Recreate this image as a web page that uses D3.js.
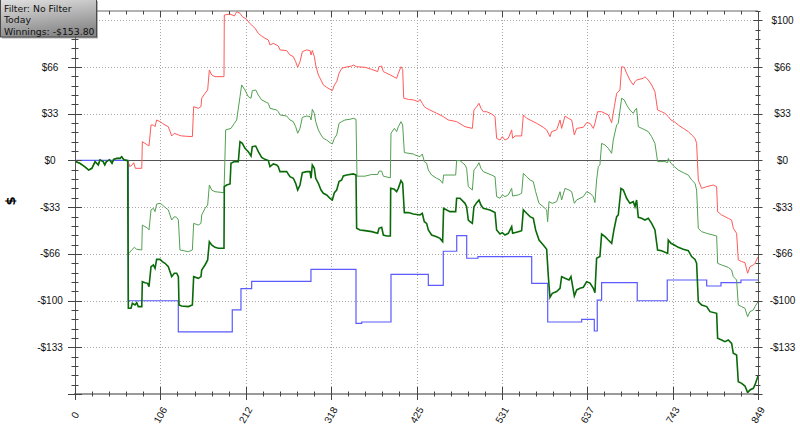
<!DOCTYPE html>
<html><head><meta charset="utf-8">
<script src="https://cdn.jsdelivr.net/npm/d3@7/dist/d3.min.js"></script>
<style>body{margin:0;background:#fff}svg{display:block}</style>
</head><body>
<svg id="c" width="800" height="433"></svg>
<script>
// ---------------- data ----------------
const xTickLabels = ["0","106","212","318","425","531","637","743","849"];
const yTickValues = [-133.333,-100,-66.667,-33.333,0,33.333,66.667,100];
const yTickLabels = ["-$133","-$100","-$66","-$33","$0","$33","$66","$100"];
const legendLines = ["Filter: No Filter","Today","Winnings: -$153.80"];
const axisLabel = "$";

// first 65 hands: all cumulative series coincide
const startHands = [[0,-0.6],[6,-2.0],[12,-4.4],[17,-6.8],[21,-5.6],[25,-0.8],[29,-3.2],[31,0.4],[35,-0.8],[37,-3.2],[39,-0.8],[43,0.4],[46,-2.0],[48,0.8],[52,1.5],[56,1.5],[58,2.7],[61,0.4],[65.5,-0.1]];

const darkGreenLater = [[66.3,-105.5],[69.6,-105.5],[71.3,-101.9],[74.6,-103.1],[76.7,-101.5],[78.7,-104.3],[83,-104.3],[83.7,-86.5],[87,-87.2],[90.3,-87.7],[92,-90.1],[94.5,-75.8],[97.4,-74.6],[99.5,-77],[101.5,-70.6],[105.7,-70.6],[108.6,-72.2],[111.9,-73.4],[116,-75.8],[120.2,-82.9],[123.5,-80.5],[126.4,-80.5],[128.5,-82.9],[129.3,-103.1],[132.6,-103.9],[140.9,-104.3],[145.9,-103.1],[147.5,-82.9],[153.3,-84.1],[156.6,-82.9],[157.5,-78.2],[161.6,-74.6],[164.9,-71],[167,-58],[169.9,-60.3],[174,-62],[178.2,-62.7],[185.2,-62.7],[185.6,-18.7],[188.5,-17.5],[192.7,-16.8],[193.9,-2],[198.1,-0.8],[203,-0.8],[205.1,13.4],[208,12.2],[211.3,8.7],[215.4,6.3],[218.8,3.2],[220.4,9.9],[224.6,10.3],[227.9,6.3],[232,2.2],[236.2,0.8],[240.3,-0.1],[242.4,-4.4],[246.5,-2.5],[250.7,-3.2],[252.7,-4.4],[254.8,-8],[263.1,-8],[267.2,-11.6],[271.4,-12.7],[274.3,-16.3],[276.8,-21.1],[279.7,-17.5],[282.6,-8.7],[288,-8],[292.1,-8],[293.4,-12.7],[295,-3.2],[297.5,-5.6],[299.2,-12.7],[302.5,-16.3],[305.8,-21.1],[308.7,-23.4],[312.8,-24.6],[317,-27],[319.9,-28.2],[322.4,-23],[325.3,-21.1],[328.2,-15.1],[331.5,-13.9],[333.5,-11.1],[337.7,-10.4],[346,-9.6],[349.3,-10.4],[350.1,-48.4],[354.3,-49.6],[360.5,-50.1],[368.8,-50.8],[376.2,-52],[377.9,-48.4],[381.2,-47.7],[383.3,-53.2],[387.4,-53.9],[392,-53.9],[392.4,-19.9],[397,-20.6],[399.8,-22.3],[401.9,-19.9],[405.2,-14.4],[407.3,-16.3],[409.4,-37.2],[414.4,-37.2],[420.6,-38.2],[428.8,-38.9],[431.7,-37.7],[434.2,-43.7],[437.1,-44.9],[439.2,-49.6],[443.3,-53.2],[449.5,-54.4],[453.7,-55.6],[457,-57.9],[458.2,-34.2],[462,-35.3],[466.1,-36.5],[473.2,-36.5],[474.4,-27],[478.5,-27],[484.8,-30.6],[486.8,-33],[488.9,-42.5],[491,-43.7],[493.9,-44.9],[495.9,-33],[499.3,-30.1],[502.2,-28.2],[504.6,-31.8],[507.5,-34.2],[515.8,-35.3],[522.1,-37.2],[524.1,-49.6],[528.3,-52.5],[531.2,-51.5],[534.5,-53.2],[538.6,-52],[542.8,-47.2],[544,-52],[551.1,-50.8],[555.2,-50.1],[557.3,-35.3],[561.4,-37.7],[565.6,-40.1],[569.7,-41.3],[572.6,-49.6],[576.8,-56.8],[582.1,-60.3],[586.3,-63.4],[588.4,-82.9],[590.4,-97.7],[593.3,-94.8],[598.7,-93.6],[602.9,-91.2],[604.9,-82.9],[609.1,-84.1],[614.1,-85.3],[616.5,-82.9],[620.7,-96.7],[623.6,-92.4],[627.7,-91.2],[631.9,-90.5],[636,-86.5],[640.2,-87.5],[644.3,-91.2],[646.3,-94.3],[648.4,-69.8],[652.5,-68.6],[654.6,-52.5],[658.8,-54.4],[662.9,-56.8],[667.1,-59.1],[669.9,-49.6],[673.3,-40.1],[675.3,-38.9],[678.7,-19.9],[681.6,-21.1],[685.7,-27],[689.8,-30.6],[694,-29.4],[696.1,-33],[698.1,-28.2],[700.2,-40.6],[704.3,-41.3],[708.5,-42.5],[712.6,-41.3],[716.8,-44.9],[720.9,-49.6],[724.2,-63.9],[729.2,-64.4],[736.7,-66.3],[737.5,-56.8],[740.8,-59.1],[745,-60.3],[749.9,-62],[756.1,-63.4],[762.4,-64.4],[766.5,-68.6],[770.7,-70.6],[772.7,-73.4],[774.8,-100.8],[778.9,-103.1],[785.2,-104.3],[789.3,-107.9],[797.6,-109.1],[798.8,-126.9],[803.8,-128.1],[807.9,-129.3],[812.1,-128.1],[816.2,-130.5],[818.3,-137.6],[822.4,-138.8],[824.5,-157.9],[828.7,-159.1],[832.8,-161],[836.1,-165.7],[839,-163.8],[843.2,-162.6],[845.2,-160.2],[849,-153.8]];

const redLater = [[66.3,-1],[68,-4.4],[71,-3.2],[73,-1.6],[75,-5.6],[83,-5.6],[83.7,13.4],[87,12.2],[90.3,11],[92,10.3],[94.5,25.3],[97.4,25.3],[99.5,24.1],[101.5,28.9],[105.7,27.7],[108.6,26.5],[111.9,25.3],[116,24.1],[120.2,17.5],[123.5,19.4],[128.5,18.2],[132.6,17.5],[145.9,17],[147.5,38.4],[153.3,37.2],[156.6,38.4],[157.5,44.4],[161.6,47.9],[164.9,50.3],[167,64.6],[169.9,61],[174,59.8],[185.2,59.8],[185.6,103.8],[192.7,104.5],[198.1,103.1],[201,106.2],[205.1,105],[208,102.6],[213.4,100.7],[217,97.9],[219.6,96.7],[223.7,94.3],[227.9,90.7],[232,88.8],[236.2,87.2],[240.3,86],[242.4,82.4],[246.5,83.6],[252.7,81.7],[254.8,78.9],[263.1,78.4],[267.2,75.3],[271.4,74.1],[274.3,70.5],[276.8,66.5],[279.7,70.5],[282.6,77.7],[288,78.9],[292.1,78.4],[293.4,75.3],[295,78.5],[297.5,74.1],[299.2,68.1],[302.5,61],[305.8,57.4],[308.7,53.9],[312.8,52.2],[317,50.8],[319.9,49.8],[322.4,53.9],[325.3,56.2],[328.2,62.2],[331.5,65.7],[335.6,66.5],[343.9,67.4],[346,68.1],[350.1,66.9],[360.5,66.5],[368.8,65],[376.2,63.4],[377.9,66.9],[381.2,67.4],[383.3,63.4],[392,61],[399.8,58.6],[401.9,62.2],[405.2,66.9],[407.3,65],[408.6,44.4],[414.4,43.6],[420.6,43.2],[426.7,42],[428.8,43.6],[431.7,40.8],[434.2,38.4],[437.1,37.2],[441.2,36],[449.5,33.7],[457.8,31.3],[464,28.9],[474.4,27.7],[484.8,24.1],[493.9,22.9],[495.9,36],[499.3,38.4],[502.2,40.8],[504.6,37.2],[507.5,34.8],[511.7,34.8],[517.9,33.2],[522.1,31.3],[524.1,15.8],[528.3,14.6],[531.2,17],[534.5,14.6],[538.6,15.8],[542.8,21.8],[544,15.8],[546.9,17.5],[555.2,17.5],[557.3,32.5],[561.4,30.1],[565.6,28.9],[573.9,26.5],[582.1,23.7],[586.3,21.8],[590.4,17],[592.5,20.6],[598.7,21.8],[602.9,28.9],[604.9,22.9],[609.1,31.7],[613.2,30.1],[617.4,28.9],[620.7,18.2],[623.6,22.9],[631.9,23.7],[636,27],[640.1,26.5],[644.3,22.9],[646.3,26.5],[649.6,34.8],[654.6,34.8],[658.8,33.6],[662.9,32.5],[667.1,27],[670.4,38.4],[673.3,47.9],[677.4,50.3],[679.5,66.9],[682.8,66.5],[685.7,62.2],[689.8,57.4],[694,53.9],[696.1,56.2],[698.1,57.4],[706.4,58.6],[708.5,59.8],[712.6,57.4],[716.8,53.9],[720.9,49.1],[724.2,36],[729.2,34.8],[733.4,33.6],[737.5,31.3],[740.8,28.9],[745,27.7],[749.9,25.3],[756.1,22.9],[762.4,20.6],[766.5,18.2],[770.7,15.8],[772.7,12.2],[774.8,-13.9],[778.9,-19.9],[785.2,-18.7],[793.4,-17.5],[797.6,-18.7],[798.8,-36.5],[803.8,-38.9],[807.9,-40.1],[812.1,-41.3],[816.2,-42.5],[818.3,-48.4],[822.4,-52],[824.5,-71],[828.7,-72.2],[832.8,-72.9],[836.1,-80.5],[839,-75.8],[843.2,-74.6],[845.2,-73.4],[849,-68.8]];

const midGreenLater = [[66.3,-66],[67.1,-66.3],[70.4,-63.9],[73.8,-62],[76.7,-63.4],[83,-63.9],[83.7,-46.1],[87,-47.2],[90.3,-48.4],[92,-49.6],[94.5,-35.3],[97.4,-34.2],[99.5,-36.5],[101.5,-31.1],[105.7,-30.6],[108.6,-31.8],[111.9,-33.4],[116,-35.3],[120.2,-42.5],[123.5,-40.1],[126.4,-40.6],[128.5,-42.5],[130.5,-63.9],[140.9,-65.1],[145.9,-63.9],[147.5,-44.9],[153.3,-46.1],[156.6,-44.9],[157.5,-38.9],[161.6,-34.2],[164.9,-31.8],[167,-17.5],[169.9,-21.1],[174,-22.3],[185.2,-23],[187.3,21.8],[193.9,22.9],[198.1,26.5],[201,28.9],[205.1,45.5],[207.2,53.9],[211.3,50.3],[215.4,45.5],[218.8,44.4],[220.4,49.8],[224.6,50.3],[227.9,46.7],[232,43.2],[236.2,42],[240.3,40.8],[242.4,37.2],[250.7,36],[252.7,34.8],[254.8,32.5],[263.1,31.7],[267.2,28.9],[271.4,27.7],[274.3,24.1],[276.8,19.4],[279.7,22.9],[282.6,30.8],[288,31.7],[292.1,31.3],[293.4,28.9],[295,36.5],[297.5,33.6],[299.2,27.7],[302.5,21.8],[305.8,18.2],[308.7,15.8],[312.8,14.6],[317,12.7],[319.9,11.8],[322.4,15.8],[325.3,18.2],[328.2,26.5],[331.5,27.7],[335.6,28.9],[341.8,29.4],[346,30.1],[349.3,29.4],[350.5,-11.2],[360.5,-11.2],[368.8,-10],[376.2,-10],[377.9,-7.6],[381.2,-7.6],[383.3,-11.2],[392,-12.4],[392.8,19.4],[397,22.9],[399.8,20.6],[401.9,24.1],[405.2,27.7],[407.3,25.3],[409.4,5.6],[420.6,4.6],[422.6,3.9],[428.8,2.7],[431.7,4.6],[434.2,-0.8],[437.1,-2],[439.2,-6.8],[443.3,-10.4],[449.5,-12.7],[453.7,-13.9],[457,-16.3],[458.2,-10.4],[473.2,-10.4],[474.4,-0.1],[478.5,-0.1],[484.8,-3.2],[486.8,-5.6],[488.9,-18.7],[493.9,-21.1],[495.9,-6.8],[499.3,-4.4],[502.2,-1.6],[504.6,-5.6],[507.5,-8],[517.9,-10.4],[522.1,-11.6],[524.1,-25.8],[528.3,-27],[531.2,-24.6],[534.5,-25.8],[538.6,-24.6],[542.8,-19.9],[544,-25.4],[551.1,-24.6],[555.2,-23.4],[557.3,-9.2],[561.4,-11.6],[565.6,-13.9],[569.7,-15.1],[572.6,-22.3],[576.8,-30.6],[582.1,-33],[586.3,-35.3],[587.5,-43.7],[589.2,-29.4],[593.3,-30.6],[598.7,-29.4],[602.9,-22.3],[604.9,-28.2],[609.1,-19.9],[614.1,-21.1],[617.4,-22.3],[620.7,-30.6],[623.6,-28.2],[631.9,-25.8],[636,-22.3],[640.1,-23.4],[644.3,-25.8],[646.3,-30.1],[648.4,-13.9],[650.5,-4.4],[652.5,-3.2],[654.6,12.2],[658.8,11],[662.9,8.7],[667.1,5.1],[669.1,14.6],[673.3,25.3],[675.3,26.5],[679.5,44.4],[682.8,43.2],[685.7,39.6],[689.8,36],[694,33.6],[696.1,36],[698.1,37.2],[700.2,24.1],[708.5,21.8],[712.6,20.6],[716.8,17],[720.9,12.2],[724.2,-0.8],[733.4,-0.8],[736.7,-1.6],[737.5,1.5],[740.8,-2],[745,-4.4],[749.9,-6.8],[756.1,-8.7],[762.4,-10.4],[766.5,-13.9],[770.7,-16.3],[772.7,-21.1],[774.8,-48.4],[778.9,-50.8],[785.2,-52],[797.6,-53.9],[798.8,-73.4],[803.8,-74.6],[812.1,-76.3],[816.2,-78.2],[818.3,-82.9],[822.4,-85.3],[824.5,-103.1],[828.7,-104.3],[832.8,-105.5],[836.1,-111.5],[839,-107.9],[843.2,-106.7],[845.2,-104.3],[849,-100.8]];

const blueHands  = [0,66.3,128.4,195.5,206.3,219.6,293.3,349.3,356.4,392.8,439.2,457.8,474.5,486.9,500.9,567.7,587.6,629.8,645.5,649.2,654.6,698.9,736.2,785.2,803,827.8,849];
const blueValues = [0,-100.1,-122.4,-106.7,-91.5,-86.3,-77.7,-116.2,-115.3,-81.3,-89.1,-64.8,-53.7,-69.8,-68.6,-87.7,-115.3,-113.4,-121.7,-99.6,-87.2,-100.1,-85.3,-89.6,-87.2,-85.3,-85.3];

const darkGreen = startHands.concat(darkGreenLater);
const red = startHands.concat(redLater);
const midGreen = startHands.concat(midGreenLater);
const blue = blueHands.map((h,i)=>[h, blueValues[i]]);

// ---------------- drawing ----------------
const svg = d3.select("#c");
const L=75, R=758, T=11, B=394;
const x = d3.scaleLinear().domain([0,849]).range([L,R]);
const y = d3.scaleLinear().domain([-500/3, 320/3]).range([B,T]);

const xMajor = xTickLabels.map(Number);
const xMinor = d3.range(0,41).map(i=>i*849/40);
const yMinor = d3.range(-25,17).map(i=>i*100/15);

const defs = svg.append("defs");
defs.append("clipPath").attr("id","plot").append("rect")
  .attr("x",L).attr("y",T).attr("width",R-L).attr("height",B-T);
const grad = defs.append("linearGradient").attr("id","lg").attr("x1",0).attr("y1",0).attr("x2",0.3).attr("y2",1);
grad.append("stop").attr("offset","0%").attr("stop-color","#e2e2e2");
grad.append("stop").attr("offset","100%").attr("stop-color","#8a8a8a");

// grid
const grid = svg.append("g").attr("stroke","#a8a8a8").attr("stroke-dasharray","1,2").attr("stroke-width",1);
grid.selectAll("line.h").data(yTickValues.filter(v=>v!==0)).join("line")
  .attr("x1",L).attr("x2",R).attr("y1",d=>Math.round(y(d))+0.5).attr("y2",d=>Math.round(y(d))+0.5);
grid.selectAll("line.v").data(xMajor.slice(1,-1)).join("line")
  .attr("y1",T).attr("y2",B).attr("x1",d=>Math.round(x(d))+0.5).attr("x2",d=>Math.round(x(d))+0.5);

// zero line
svg.append("line").attr("x1",L).attr("x2",R+4).attr("y1",Math.round(y(0))+0.5).attr("y2",Math.round(y(0))+0.5)
  .attr("stroke","#555").attr("stroke-width",1);

// series
const line = d3.line().x(d=>x(d[0])).y(d=>y(d[1]));
const plot = svg.append("g").attr("clip-path","url(#plot)").attr("fill","none");
plot.append("path").datum(blue).attr("d",d3.line().curve(d3.curveStepAfter).x(d=>x(d[0])).y(d=>y(d[1])))
  .attr("stroke","#5a5aff").attr("stroke-width",1.2);
plot.append("path").datum(red).attr("d",line).attr("stroke","#ff5a5a").attr("stroke-width",1);
plot.append("path").datum(midGreen).attr("d",line).attr("stroke","#52a052").attr("stroke-width",1);
plot.append("path").datum(darkGreen).attr("d",line).attr("stroke","#0a6a0a").attr("stroke-width",1.6);

// axes frame
const ax = svg.append("g");
ax.append("line").attr("x1",L).attr("x2",R).attr("y1",T).attr("y2",T).attr("stroke","#9a9a9a").attr("stroke-width",1.5);
ax.append("line").attr("x1",L-1).attr("x2",R+1).attr("y1",B).attr("y2",B).attr("stroke","#9a9a9a").attr("stroke-width",2);
ax.append("line").attr("x1",L+0.5).attr("x2",L+0.5).attr("y1",T).attr("y2",B).attr("stroke","#555").attr("stroke-width",1);
ax.append("line").attr("x1",R+0.5).attr("x2",R+0.5).attr("y1",T).attr("y2",B).attr("stroke","#555").attr("stroke-width",1);

const tk = ax.append("g").attr("stroke","#444").attr("stroke-width",1);
xMinor.forEach((d,i)=>{
  const px = Math.round(x(d))+0.5, major = i%5===0;
  tk.append("line").attr("x1",px).attr("x2",px).attr("y1",B-(major?7:2.5)).attr("y2",B+(major?6:2.5));
  tk.append("line").attr("x1",px).attr("x2",px).attr("y1",T).attr("y2",T+(major?6:3.5));
});
yMinor.forEach((d,i)=>{
  const py = Math.round(y(d))+0.5, major = (i%5===0);
  tk.append("line").attr("y1",py).attr("y2",py).attr("x1",L-(major?7:3.5)).attr("x2",L+(major?7:3.5));
  tk.append("line").attr("y1",py).attr("y2",py).attr("x1",R-(major?4.5:2.5)).attr("x2",R+(major?4.5:2.5));
});

const font = "'Liberation Sans', Arial, sans-serif";
yTickValues.forEach((v,i)=>{
  ax.append("text").attr("x",50).attr("y",y(v)).attr("dy","0.35em").attr("text-anchor","middle")
    .attr("font-family",font).attr("font-size",10).attr("fill","#111").text(yTickLabels[i]);
  ax.append("text").attr("x",782.5).attr("y",y(v)).attr("dy","0.35em").attr("text-anchor","middle")
    .attr("font-family",font).attr("font-size",10).attr("fill","#111").text(yTickLabels[i]);
});
xMajor.forEach((v,i)=>{
  ax.append("text").attr("transform",`translate(${x(v)},415) rotate(-60)`).attr("dy","0.35em")
    .attr("text-anchor","middle").attr("font-family",font).attr("font-size",10).attr("fill","#111").text(xTickLabels[i]);
});
svg.append("text").attr("transform","translate(10,201) rotate(-90)").attr("text-anchor","middle").attr("dy","0.35em")
  .attr("font-family","'DejaVu Sans', sans-serif").attr("font-weight","bold").attr("font-size",13).text(axisLabel);

// legend box
const lg = svg.append("g");
lg.append("rect").attr("x",2).attr("y",1).attr("width",96).attr("height",37.5).attr("fill","#666").attr("opacity",0.5);
lg.append("rect").attr("x",0.5).attr("y",-0.5).attr("width",96).attr("height",37.5)
  .attr("fill","url(#lg)").attr("stroke","#4a4a4a").attr("stroke-width",1);
legendLines.forEach((t,i)=>{
  lg.append("text").attr("x",4).attr("y",11.5+i*11.7).attr("font-family","'DejaVu Sans', sans-serif")
    .attr("font-size",9.3).attr("fill","#111").text(t);
});
</script>
</body></html>
